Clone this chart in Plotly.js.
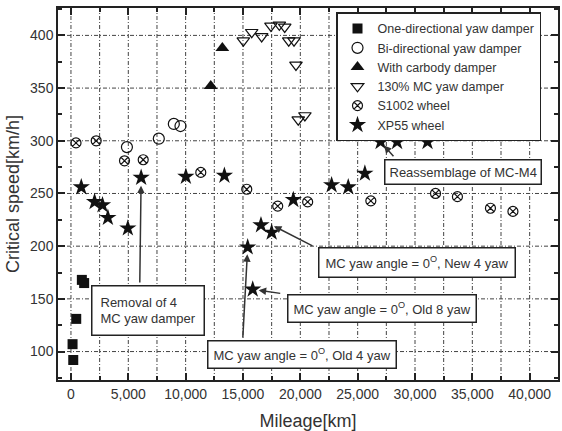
<!DOCTYPE html>
<html>
<head>
<meta charset="utf-8">
<script src="https://cdn.plot.ly/plotly-3.0.1.min.js"></script>
<style>html,body{margin:0;padding:0;background:#fff;}#chart{width:562px;height:431px;}</style>
</head>
<body>
<div id="chart"></div>
<script>
// ---- data ----
const oneDirX = [200, 140, 460, 950, 1150];
const oneDirY = [92, 107, 131, 168, 165];

const biDirX = [4880, 7660, 8970, 9550];
const biDirY = [294, 302, 316, 314];

const carbodyX = [12190, 13200];
const carbodyY = [352, 388];

const mc130X = [15030, 15760, 16630, 17440, 18170, 18640, 18990, 19450, 19620, 19820, 20400];
const mc130Y = [395, 403, 399, 409, 410, 408, 395, 395, 372, 320, 324];

const s1002X = [440, 2200, 4670, 6300, 11320, 15330, 18030, 20640, 26150, 31790, 33700, 36580, 38540];
const s1002Y = [298, 300, 281, 282, 270, 254, 238, 242, 243, 250, 247, 236, 233];

const xp55X = [900, 2060, 2750, 3220, 4960, 6120, 10020, 13380, 15410, 15850, 16570, 17500, 19390, 22730, 24180, 25630, 27000, 28440, 31090];
const xp55Y = [256, 242, 239, 227, 217, 265, 266, 267, 199, 159, 220, 213, 244, 258, 256, 269, 299, 299, 299];

const seriesNames = ['One-directional yaw damper', 'Bi-directional yaw damper', 'With carbody damper',
  '130% MC yaw damper', 'S1002 wheel', 'XP55 wheel'];

// axis ranges and grid positions (tick values)
const xRange = [-1130, 42470];
const yRange = [73, 426];
const xGridVals = [0, 2500, 5000, 7500, 10000, 12500, 15000, 17500, 20000, 22500, 25000, 27500, 30000, 32500, 35000, 37500, 40000];
const yGridVals = [100, 150, 200, 250, 300, 350, 400];

// ---- traces ----
const ink = '#111';
function tr(x, y, name, symbol, size, open) {
  return {
    type: 'scatter', mode: 'markers', x: x, y: y, name: name,
    marker: {
      symbol: symbol, size: size, color: ink,
      line: {color: ink, width: open ? 1.2 : 0}
    }
  };
}
const data = [
  tr(oneDirX, oneDirY, seriesNames[0], 'square', 10, false),
  tr(biDirX, biDirY, seriesNames[1], 'circle-open', 11, true),
  tr(carbodyX, carbodyY, seriesNames[2], 'triangle-up', 12, false),
  tr(mc130X, mc130Y, seriesNames[3], 'triangle-down-open', 11, true),
  tr(s1002X, s1002Y, seriesNames[4], 'circle-x-open', 10, true),
  tr(xp55X, xp55Y, seriesNames[5], 'star', 13, false)
];

const fontFam = '"Liberation Sans", Arial, sans-serif';
const gridLine = {color: '#444', width: 1, dash: '4px,2px,1px,2px'};

// gridlines as shapes referencing both data axes (so they sit above the plot background)
const shapes = [];
xGridVals.forEach(v => shapes.push({type: 'line', layer: 'below', xref: 'x', yref: 'y',
  x0: v, x1: v, y0: yRange[0], y1: yRange[1], line: gridLine}));
yGridVals.forEach(v => shapes.push({type: 'line', layer: 'below', xref: 'x', yref: 'y',
  x0: xRange[0], x1: xRange[1], y0: v, y1: v, line: gridLine}));

function box(x, y, text, pad) {
  return {x: x, y: y, xref: 'x', yref: 'y', text: text, showarrow: false,
    bgcolor: '#fff', bordercolor: '#222', borderwidth: 1.5, borderpad: pad || 5,
    align: 'left', font: {family: fontFam, size: 13, color: '#333'}};
}
function arrow(xTip, yTip, xTail, yTail, standoff) {
  return {x: xTip, y: yTip, xref: 'x', yref: 'y', ax: xTail, ay: yTail, axref: 'x', ayref: 'y',
    text: '', showarrow: true, arrowhead: 2, arrowsize: 1, arrowwidth: 1.5, arrowcolor: '#333',
    standoff: standoff || 0};
}

const layout = {
  width: 562, height: 431,
  margin: {l: 58, r: 4, t: 8, b: 51},
  font: {family: fontFam, color: '#333'},
  showlegend: true,
  legend: {
    x: 0.556, y: 0.988, xanchor: 'left', yanchor: 'top',
    bgcolor: '#fff', bordercolor: '#222', borderwidth: 1.5,
    font: {family: fontFam, size: 12.5, color: '#333'},
    tracegroupgap: 0
  },
  xaxis: {
    range: xRange, dtick: 5000, tickformat: ',d',
    ticks: 'inside', ticklen: 7, tickwidth: 1.5, tickcolor: '#222',
    showline: true, linecolor: '#222', linewidth: 1.5, mirror: 'allticks',
    showgrid: false, zeroline: false,
    tickfont: {size: 14, color: '#333'},
    title: {text: 'Mileage[km]', font: {size: 18, color: '#333'}, standoff: 14},
    minor: {dtick: 2500, ticks: 'inside', ticklen: 4, tickcolor: '#222', showgrid: false}
  },
  yaxis: {
    range: yRange, dtick: 50,
    ticks: 'inside', ticklen: 7, tickwidth: 1.5, tickcolor: '#222',
    showline: true, linecolor: '#222', linewidth: 1.5, mirror: 'allticks',
    showgrid: false, zeroline: false,
    tickfont: {size: 14, color: '#333'},
    title: {text: 'Critical speed[km/h]', font: {size: 18, color: '#333'}, standoff: 6},
    minor: {dtick: 25, ticks: 'inside', ticklen: 4, tickcolor: '#222', showgrid: false}
  },
  shapes: shapes,
  annotations: [
    arrow(xp55X[5], xp55Y[5], 6000, 164, 8),
    arrow(xp55X[16], xp55Y[16], 28240, 284, 5),
    arrow(17700, 219, 21190, 199.5, 0),
    arrow(xp55X[9], xp55Y[9], 18380, 155, 6),
    arrow(xp55X[8], xp55Y[8], 14980, 112, 7),
    box(6760, 139.4, 'Removal of 4<br>MC yaw damper', 8),
    box(34155, 270.8, 'Reassemblage of MC-M4', 4),
    box(30140, 184.3, 'MC yaw angle = 0<sup>O</sup>, New 4 yaw', 6),
    box(27083, 141.1, 'MC yaw angle = 0<sup>O</sup>, Old 8 yaw', 5),
    box(20160, 96.9, 'MC yaw angle = 0<sup>O</sup>, Old 4 yaw', 5)
  ]
};

Plotly.newPlot('chart', data, layout, {displayModeBar: false});
</script>
</body>
</html>
